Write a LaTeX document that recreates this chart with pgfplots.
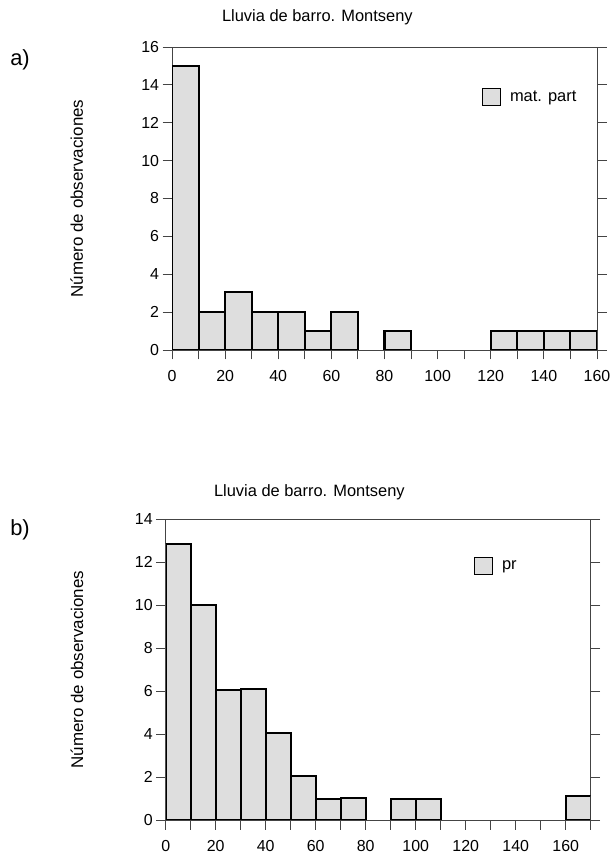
\documentclass[border=0pt]{standalone}
\usepackage{pgfplots}
\pgfplotsset{compat=1.18}
\usepackage{fontspec}
\setmainfont{Liberation Sans}
\definecolor{barfill}{HTML}{DEDEDE}
\definecolor{axgray}{HTML}{444444}

\pgfplotsset{
  histo/.style={
    scale only axis,
    width=425bp,
    axis line style={axgray, line width=0.9pt},
    tick style={axgray, line width=0.9pt},
    tick align=outside,
    major tick length=9.5bp,
    minor tick length=9.5bp,
    xtick pos=bottom,
    ytick pos=both,
    yticklabel pos=left,
    ymin=0,
    ytick distance=2,
    xtick={0,20,...,160},
    tick label style={font=\fontsize{16}{19}\selectfont},
    xticklabel style={yshift=-7bp},
    /pgf/number format/assume math mode=true,
    ylabel={Número de observaciones},
    ylabel style={font=\fontsize{17}{20}\selectfont, anchor=center},
    title style={font=\fontsize{16.5}{20}\selectfont, anchor=base},
    legend style={draw=none, fill=none, anchor=west, inner sep=0pt,
      font=\fontsize{16.5}{20}\selectfont},
    legend image code/.code={
      \draw[fill=barfill, draw=black, line width=0.8pt] (0bp,-8.5bp) rectangle (18.5bp,8.5bp);
      \path (25bp,0bp);},
  },
  bars/.style={ybar, bar width=10, bar shift=0pt,
    fill=barfill, draw=black, line width=2.1pt},
}

\begin{document}
\begin{tikzpicture}
\useasboundingbox (0,0) rectangle (612bp,856bp);

% a) materia particulada
\begin{axis}[histo,
    at={(172bp,506bp)}, anchor=south west,
    height=303bp,
    xmin=0, xmax=160, ymax=16,
    minor xtick={10,30,...,150},
    title={Lluvia de barro. Montseny},
    title style={at={(axis description cs:0.342,1.066)}},
    ylabel style={at={(axis description cs:-0.224,0.5)}},
    legend style={at={(axis description cs:0.728,0.835)}},
  ]
  \addplot[bars] coordinates {
    (5,15) (15,2) (25,3.05) (35,2) (45,2) (55,1) (65,2)
    (85,1) (125,1) (135,1) (145,1) (155,1)
  };
  \legend{mat. part}
\end{axis}

% b) pr
\begin{axis}[histo,
    at={(165.7bp,36bp)}, anchor=south west,
    height=301bp,
    xmin=0, xmax=170, ymax=14,
    minor xtick={10,30,...,170},
    title={Lluvia de barro. Montseny},
    title style={at={(axis description cs:0.338,1.056)}},
    ylabel style={at={(axis description cs:-0.209,0.5)}},
    legend style={at={(axis description cs:0.724,0.844)}},
  ]
  \addplot[bars] coordinates {
    (5,12.85) (15,10) (25,6.05) (35,6.1) (45,4.05) (55,2.05)
    (65,0.97) (75,1.03) (95,0.98) (105,0.98) (165,1.1)
  };
  \legend{pr}
\end{axis}

\node[font=\fontsize{22}{25}\selectfont] at (20bp,796bp) {a)};
\node[font=\fontsize{22}{25}\selectfont] at (20bp,326bp) {b)};
\end{tikzpicture}
\end{document}
